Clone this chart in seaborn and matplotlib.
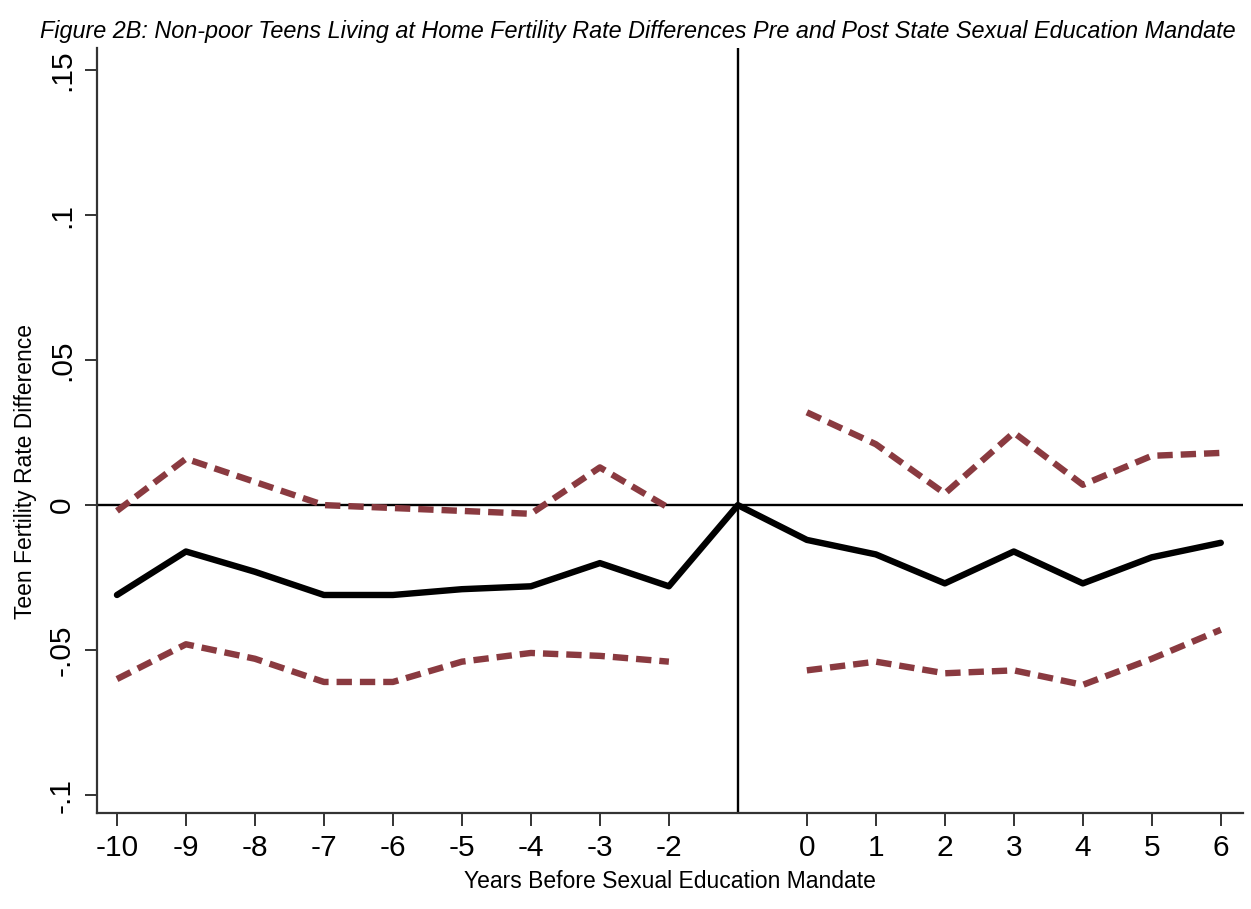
import matplotlib
matplotlib.use("Agg")
import matplotlib.pyplot as plt
import seaborn as sns
import pandas as pd

# Event-time estimates relative to the mandate year (-1 is the reference year)
years_pre = [-10, -9, -8, -7, -6, -5, -4, -3, -2]
years_post = [0, 1, 2, 3, 4, 5, 6]

estimate_pre = [-0.031, -0.016, -0.023, -0.031, -0.031, -0.029, -0.028, -0.020, -0.028]
estimate_ref = 0.0
estimate_post = [-0.012, -0.017, -0.027, -0.016, -0.027, -0.018, -0.013]

upper_pre = [-0.002, 0.016, 0.008, 0.000, -0.001, -0.002, -0.003, 0.013, -0.001]
upper_post = [0.032, 0.021, 0.004, 0.025, 0.007, 0.017, 0.018]

lower_pre = [-0.060, -0.048, -0.053, -0.061, -0.061, -0.054, -0.051, -0.052, -0.054]
lower_post = [-0.057, -0.054, -0.058, -0.057, -0.062, -0.053, -0.043]

x_ticks = [-10, -9, -8, -7, -6, -5, -4, -3, -2, 0, 1, 2, 3, 4, 5, 6]
y_ticks = [-0.1, -0.05, 0, 0.05, 0.1, 0.15]
y_tick_labels = ["-.1", "-.05", "0", ".05", ".1", ".15"]

title = ("Figure 2B: Non-poor Teens Living at Home Fertility Rate Differences "
         "Pre and Post State Sexual Education Mandate")

sns.set_theme(style="white")
plt.rcParams["font.family"] = ["Liberation Sans", "DejaVu Sans"]
plt.rcParams["text.color"] = "black"
plt.rcParams["axes.labelcolor"] = "black"
plt.rcParams["xtick.color"] = "black"
plt.rcParams["ytick.color"] = "black"

fig = plt.figure(figsize=(12.51, 9.09), dpi=100)
ax = fig.add_axes([0.0775, 0.1056, 0.916, 0.8414])

ci_color = "#8A3A40"

est = pd.DataFrame({
    "year": years_pre + [-1] + years_post,
    "value": estimate_pre + [estimate_ref] + estimate_post,
})

# Reference lines at zero and at the omitted year
ax.axhline(0, color="black", lw=1.7, zorder=1)
ax.axvline(-1, color="black", lw=1.7, zorder=1)

for xs, ys in [(years_pre, upper_pre), (years_post, upper_post),
               (years_pre, lower_pre), (years_post, lower_post)]:
    seg = pd.DataFrame({"year": xs, "value": ys})
    sns.lineplot(data=seg, x="year", y="value", ax=ax, color=ci_color,
                 lw=4.6, zorder=2)
    ax.lines[-1].set_dashes((2.4, 1.25))

sns.lineplot(data=est, x="year", y="value", ax=ax, color="black", lw=4.6,
             zorder=3)

ax.set_xlim(-10.29, 6.32)
ax.set_ylim(-0.1062, 0.1576)
ax.set_xticks(x_ticks)
ax.set_xticklabels([str(t) for t in x_ticks], fontsize=21.5)
ax.set_yticks(y_ticks)
ax.set_yticklabels(y_tick_labels, fontsize=21.5, rotation=90, va="center")

ax.set_xlabel("Years Before Sexual Education Mandate", fontsize=16.5, labelpad=6)
ax.set_ylabel("Teen Fertility Rate Difference", fontsize=16.5)
ax.yaxis.set_label_coords(-0.052, 0.446)
fig.text(0.032, 0.965, title, fontsize=16.8, style="italic", ha="left",
         va="center")

for side in ["top", "right"]:
    ax.spines[side].set_visible(False)
for side in ["left", "bottom"]:
    ax.spines[side].set_color("#333333")
    ax.spines[side].set_linewidth(1.6)
ax.tick_params(axis="both", direction="out", length=9, width=1.4,
               color="#333333", pad=6, left=True, bottom=True)

fig.savefig("out.png", dpi=100, facecolor="white")
